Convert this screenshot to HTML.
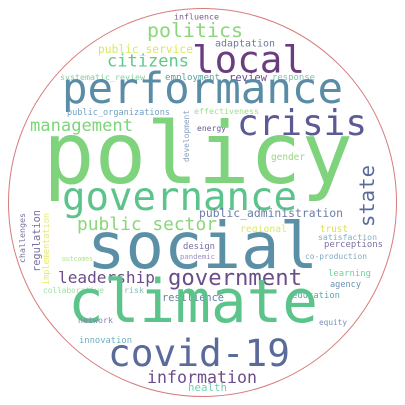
<!DOCTYPE html>
<html><head><meta charset="utf-8"><style>
html,body{margin:0;padding:0;background:#fff;}
svg{display:block;}
text{font-family:"DejaVu Sans Mono","Liberation Mono",monospace;}
</style></head><body>
<svg width="405" height="405" viewBox="0 0 405 405">
<circle cx="202.5" cy="202.5" r="194" fill="none" stroke="#d87a7a" stroke-width="1"/>
<g>
<text x="174" y="19.5" font-size="8.3" fill="#7a5a8a" textLength="45" lengthAdjust="spacingAndGlyphs">influence</text>
<text x="147" y="37" font-size="19.9" fill="#8ad878" textLength="96" lengthAdjust="spacingAndGlyphs">politics</text>
<text x="215" y="46.5" font-size="10" fill="#6a7a9a" textLength="60" lengthAdjust="spacingAndGlyphs">adaptation</text>
<text x="98" y="53" font-size="11.3" fill="#d8e860" textLength="95" lengthAdjust="spacingAndGlyphs">public_service</text>
<text x="192" y="72.5" font-size="37.5" fill="#6a3d7f" textLength="113" lengthAdjust="spacingAndGlyphs">local</text>
<text x="107" y="66.5" font-size="17" fill="#5ec88c" textLength="82" lengthAdjust="spacingAndGlyphs">citizens</text>
<text x="60" y="80" font-size="8.3" fill="#80d0a0" textLength="85" lengthAdjust="spacingAndGlyphs">systematic_review</text>
<text x="165" y="80" font-size="9.1" fill="#5aa0a0" textLength="55" lengthAdjust="spacingAndGlyphs">employment</text>
<text x="229" y="81" font-size="10.5" fill="#6a4d8a" textLength="38" lengthAdjust="spacingAndGlyphs">review</text>
<text x="272" y="80" font-size="8.9" fill="#80c0b0" textLength="43" lengthAdjust="spacingAndGlyphs">response</text>
<text x="62" y="103" font-size="42.4" fill="#5b8ca6" textLength="281" lengthAdjust="spacingAndGlyphs">performance</text>
<text x="67" y="115" font-size="8.55" fill="#70a0c0" textLength="103" lengthAdjust="spacingAndGlyphs">public_organizations</text>
<text x="194" y="114" font-size="8.3" fill="#a0e08a" textLength="65" lengthAdjust="spacingAndGlyphs">effectiveness</text>
<text x="237" y="135" font-size="36" fill="#5c5a94" textLength="130" lengthAdjust="spacingAndGlyphs">crisis</text>
<text x="30" y="131" font-size="17.1" fill="#7ed47b" textLength="103" lengthAdjust="spacingAndGlyphs">management</text>
<text x="197" y="131" font-size="8" fill="#6a5a90" textLength="29" lengthAdjust="spacingAndGlyphs">energy</text>
<text transform="translate(189,162) rotate(-90)" font-size="7.85" fill="#8aa0c0" textLength="52" lengthAdjust="spacingAndGlyphs">development</text>
<text x="271" y="160" font-size="9.4" fill="#9ad880" textLength="34" lengthAdjust="spacingAndGlyphs">gender</text>
<text x="43" y="183" font-size="85.8" fill="#7fd37c" textLength="310" lengthAdjust="spacingAndGlyphs">policy</text>
<text transform="translate(374,227) rotate(-90)" font-size="20.6" fill="#5a6a9a" textLength="62" lengthAdjust="spacingAndGlyphs">state</text>
<text x="62" y="210" font-size="39" fill="#5cc48a" textLength="235" lengthAdjust="spacingAndGlyphs">governance</text>
<text transform="translate(25,263) rotate(-90)" font-size="8.3" fill="#7a70a0" textLength="50" lengthAdjust="spacingAndGlyphs">challenges</text>
<text transform="translate(40,272) rotate(-90)" font-size="10.3" fill="#7a70a0" textLength="62" lengthAdjust="spacingAndGlyphs">regulation</text>
<text transform="translate(49,285) rotate(-90)" font-size="8.5" fill="#e8e870" textLength="72" lengthAdjust="spacingAndGlyphs">implementation</text>
<text x="199" y="217" font-size="11.4" fill="#6a80a8" textLength="144" lengthAdjust="spacingAndGlyphs">public_administration</text>
<text x="77" y="230" font-size="17.9" fill="#8bd67a" textLength="140" lengthAdjust="spacingAndGlyphs">public_sector</text>
<text x="240" y="232" font-size="9.8" fill="#d6e870" textLength="47" lengthAdjust="spacingAndGlyphs">regional</text>
<text x="320" y="232" font-size="9.3" fill="#e0e050" textLength="28" lengthAdjust="spacingAndGlyphs">trust</text>
<text x="318" y="240" font-size="8.2" fill="#80b0c0" textLength="59" lengthAdjust="spacingAndGlyphs">satisfaction</text>
<text x="324" y="247" font-size="8.9" fill="#7a70a0" textLength="59" lengthAdjust="spacingAndGlyphs">perceptions</text>
<text x="87" y="268" font-size="64" fill="#5a8fa5" textLength="231" lengthAdjust="spacingAndGlyphs">social</text>
<text x="183" y="249" font-size="8.9" fill="#7a70a0" textLength="32" lengthAdjust="spacingAndGlyphs">design</text>
<text x="180" y="259" font-size="7.3" fill="#9a90c0" textLength="35" lengthAdjust="spacingAndGlyphs">pandemic</text>
<text x="62" y="261" font-size="7" fill="#b0e090" textLength="31" lengthAdjust="spacingAndGlyphs">outcomes</text>
<text x="305" y="259" font-size="7.9" fill="#80a8c0" textLength="62" lengthAdjust="spacingAndGlyphs">co-production</text>
<text x="58" y="283" font-size="16.1" fill="#6a4d8a" textLength="97" lengthAdjust="spacingAndGlyphs">leadership</text>
<text x="168" y="285" font-size="22.3" fill="#6a4d8a" textLength="134" lengthAdjust="spacingAndGlyphs">government</text>
<text x="328" y="276" font-size="8.9" fill="#70d0a0" textLength="43" lengthAdjust="spacingAndGlyphs">learning</text>
<text x="330" y="287" font-size="8.6" fill="#6a90b0" textLength="31" lengthAdjust="spacingAndGlyphs">agency</text>
<text x="43" y="293" font-size="7.8" fill="#a0e0a0" textLength="61" lengthAdjust="spacingAndGlyphs">collaborative</text>
<text x="124" y="293" font-size="8.3" fill="#80c0c0" textLength="20" lengthAdjust="spacingAndGlyphs">risk</text>
<text x="162" y="301" font-size="10.3" fill="#6a80a8" textLength="62" lengthAdjust="spacingAndGlyphs">resilience</text>
<text x="292" y="298" font-size="8.9" fill="#60a8b0" textLength="48" lengthAdjust="spacingAndGlyphs">education</text>
<text x="68" y="322" font-size="59.3" fill="#5cc48a" textLength="250" lengthAdjust="spacingAndGlyphs">climate</text>
<text x="78" y="323" font-size="8.3" fill="#8a80b0" textLength="35" lengthAdjust="spacingAndGlyphs">network</text>
<text x="319" y="325" font-size="7.75" fill="#7a90b8" textLength="28" lengthAdjust="spacingAndGlyphs">equity</text>
<text x="79" y="343" font-size="8.8" fill="#70b0c0" textLength="53" lengthAdjust="spacingAndGlyphs">innovation</text>
<text x="108" y="366" font-size="37.8" fill="#5a6a9a" textLength="182" lengthAdjust="spacingAndGlyphs">covid-19</text>
<text x="147" y="383" font-size="16.6" fill="#6e4d8c" textLength="110" lengthAdjust="spacingAndGlyphs">information</text>
<text x="188" y="391" font-size="10.8" fill="#70d0b0" textLength="39" lengthAdjust="spacingAndGlyphs">health</text>
</g>
</svg>
</body></html>
